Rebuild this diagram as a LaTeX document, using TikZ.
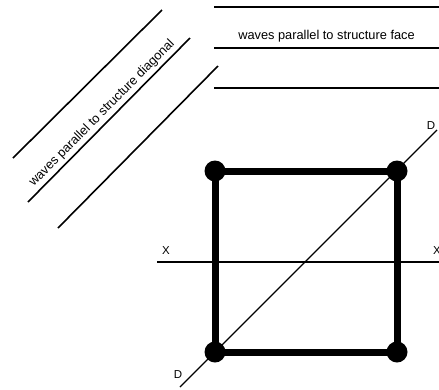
\documentclass[tikz,border=0pt]{standalone}
\usepackage{fontspec}
\setmainfont{Liberation Sans}
\usetikzlibrary{positioning}
\begin{document}
\begin{tikzpicture}[x=1pt, y=-1pt,
    guide/.style={line width=1.6pt},
    axis/.style={line width=1.2pt},
    frame/.style={line width=7pt},
    corner/.style={circle, fill, inner sep=0pt, minimum size=21pt},
    lbl/.style={font=\fontsize{12.8}{14}\selectfont, inner sep=1pt},
    tag/.style={font=\fontsize{11.5}{13}\selectfont, inner sep=1pt}]
  \useasboundingbox (0,0) rectangle (439,389);
  % Wave fronts parallel to the face
  \coordinate (fa1) at (214,7);   \coordinate (fb1) at (439,7);
  \coordinate (fa2) at (214,48);  \coordinate (fb2) at (439,48);
  \coordinate (fa3) at (214,88);  \coordinate (fb3) at (439,88);
  \draw[guide] (fa1) -- (fb1);
  \draw[guide] (fa2) -- (fb2) node[lbl, midway, above=4pt] (facetext) {waves parallel to structure face};
  \draw[guide] (fa3) -- (fb3);
  % Wave fronts parallel to the diagonal
  \coordinate (da1) at (13,158);  \coordinate (db1) at (162,10);
  \coordinate (da2) at (28,202);  \coordinate (db2) at (190,38);
  \coordinate (da3) at (58,228);  \coordinate (db3) at (218,66);
  \draw[guide] (da1) -- (db1);
  \draw[guide] (da2) -- (db2) node[lbl, midway, sloped, above=2pt] (diagtext) {waves parallel to structure diagonal};
  \draw[guide] (da3) -- (db3);
  % Structure
  \node[corner] (tl) at (215,171) {};
  \node[corner] (tr) at (397,171) {};
  \node[corner] (br) at (397,352) {};
  \node[corner] (bl) at (215,352) {};
  \draw[frame] (tl.center) -- (tr.center) -- (br.center) -- (bl.center) -- cycle;
  % Axes X--X and D--D
  \coordinate (xw) at (157,262);  \coordinate (xe) at (439,262);
  \coordinate (dsw) at (180,387); \coordinate (dne) at (437,130);
  \draw[axis] (xw) -- (xe);
  \draw[axis] (dsw) -- (dne);
  \node[tag] (xleft) at (166,251) {X};
  \node[tag] (xright) at (437,251) {X};
  \node[tag] (dtop) at (431,126) {D};
  \node[tag] (dbottom) at (178,375) {D};
\end{tikzpicture}
\end{document}
